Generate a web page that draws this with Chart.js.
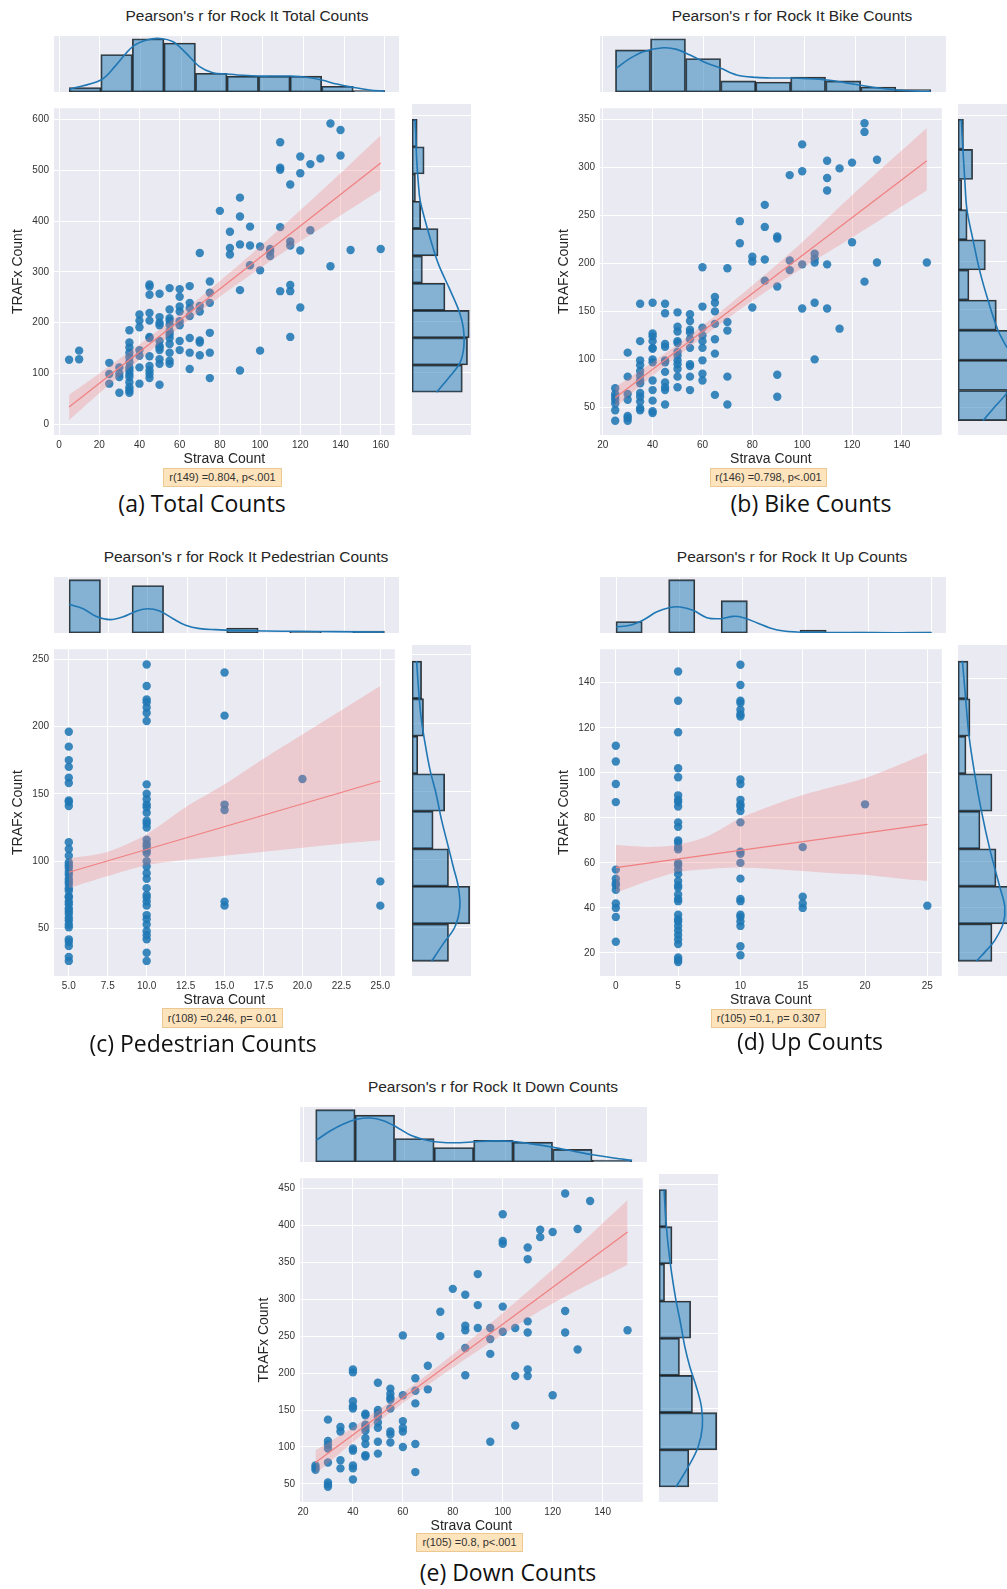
<!DOCTYPE html>
<html>
<head>
<meta charset="utf-8">
<script src="https://cdn.jsdelivr.net/npm/chart.js@4.4.1/dist/chart.umd.min.js"></script>
<style>
  html, body { margin: 0; padding: 0; background: #fff; overflow: hidden; }
  #page { position: relative; width: 1007px; height: 1589px; overflow: hidden; font-family: "Liberation Sans", Arial, sans-serif; }
  #page canvas { position: absolute; }
  .ttl { position: absolute; transform: translate(-50%, -50%); white-space: nowrap; font-size: 15.5px; color: #262626; }
  .rbox { position: absolute; box-sizing: border-box; background: #fee4bc; border: 1px solid #ecc992; font-size: 11px; color: #333; text-align: center; white-space: nowrap; }
  .cap { position: absolute; transform: translate(-50%, -50%); white-space: nowrap; font-family: "Open Sans", sans-serif; font-size: 23px; color: #111; }
</style>
</head>
<body>
<div id="page"></div>
<script>
// ---------- (a) Total counts ----------
const totalPts = [
  [5,127],[10,145],[10,128],
  [25,121],[25,99],[25,80],
  [30,112],[30,100],[30,93],[30,62],
  [35,185],[35,161],[35,151],[35,141],[35,132],[35,122],[35,112],[35,106],[35,99],[35,93],[35,83],[35,73],[35,67],[35,62],
  [40,216],[40,204],[40,191],[40,146],[40,135],[40,112],[40,80],
  [45,275],[45,271],[45,255],[45,219],[45,204],[45,172],[45,170],[45,134],[45,115],[45,106],[45,99],[45,91],
  [50,257],[50,211],[50,200],[50,195],[50,164],[50,154],[50,151],[50,146],[50,128],[50,119],[50,78],
  [55,268],[55,226],[55,209],[55,204],[55,196],[55,183],[55,177],[55,170],[55,158],[55,141],[55,125],[55,119],
  [60,266],[60,251],[60,232],[60,222],[60,203],[60,195],[60,164],[60,146],
  [65,272],[65,239],[65,229],[65,213],[65,170],[65,141],[65,109],
  [70,337],[70,233],[70,222],[70,165],[70,161],[70,136],
  [75,281],[75,259],[75,239],[75,180],[75,141],[75,91],
  [80,420],[85,379],[85,347],[85,334],
  [90,446],[90,409],[90,354],[90,264],[90,106],
  [95,389],[95,352],[95,313],
  [100,350],[100,303],[100,145],
  [105,345],[105,340],[105,331],
  [110,555],[110,505],[110,501],[110,388],[110,262],
  [115,472],[115,360],[115,352],[115,274],[115,262],[115,172],
  [120,527],[120,494],[120,342],[120,230],
  [125,512],[125,382],[130,523],[135,592],[135,311],
  [140,579],[140,529],[145,343],[160,345]
];
const totalXTicks = [0, 20, 40, 60, 80, 100, 120, 140, 160];
const totalYTicks = [0, 100, 200, 300, 400, 500, 600];
const totalFitX = [5, 160];
const totalFitY = [34, 514];
const totalBandX = [5, 20, 40, 60, 80, 100, 120, 140, 160];
const totalBandHi = [58, 100, 157, 217, 282, 350, 421, 494, 569];
const totalBandLo = [8, 61, 127, 191, 251, 307, 360, 411, 461];
const totalTopEdges = [5, 20.5, 36, 51.5, 67, 82.5, 98, 113.5, 129, 144.5, 160];
const totalTopCounts = [3, 26, 37, 34, 13, 11, 11, 11, 4, 1];
const totalTopKdeX = [5, 20.5, 28, 36, 43, 49.5, 56, 62.5, 69, 75.5, 82.5, 90.5, 98, 107, 113.5, 121.5, 129, 136.5, 144.5, 152.5, 160];
const totalTopKdeY = [1.9, 8.3, 18.7, 31.4, 36.1, 37.2, 34.9, 26.8, 17.6, 13.4, 12.5, 11.6, 11.1, 11.1, 11.1, 10.2, 8.3, 5.5, 3.2, 1.4, 0.7];
const totalSideEdges = [62, 115, 168, 221, 274, 327, 380, 433, 486, 539, 592];
const totalSideCounts = [29, 32, 33, 19, 6, 15, 5, 2, 7, 3];
const totalSideKdeY = [62, 93, 119, 151, 187, 219, 261, 307, 345, 404, 436, 462, 514, 566, 592];
const totalSideKdeX = [14.2, 21.9, 27.6, 29.9, 29.6, 27.2, 21.9, 15.7, 11.9, 6.9, 4.6, 3.8, 2.7, 2.1, 1.7];

// ---------- (b) Bike counts ----------
const bikePts = [
  [25,70],[25,64],[25,61],[25,58],[25,54],[25,47],[25,36],
  [30,107],[30,82],[30,64],[30,58],[30,41],[30,39],[30,36],
  [35,158],[35,119],[35,99],[35,94],[35,88],[35,83],[35,78],[35,75],[35,65],[35,61],[35,56],[35,49],[35,47],
  [40,159],[40,127],[40,124],[40,119],[40,112],[40,111],[40,100],[40,97],[40,78],[40,68],[40,57],[40,46],[40,44],
  [45,158],[45,148],[45,116],[45,113],[45,99],[45,97],[45,87],[45,76],[45,71],[45,68],[45,53],
  [50,149],[50,134],[50,129],[50,119],[50,117],[50,108],[50,104],[50,99],[50,95],[50,90],[50,82],[50,71],
  [55,147],[55,140],[55,131],[55,128],[55,121],[55,112],[55,95],[55,93],[55,82],[55,68],
  [60,196],[60,155],[60,133],[60,125],[60,119],[60,112],[60,99],[60,85],[60,78],
  [65,165],[65,159],[65,150],[65,137],[65,121],[65,106],[65,63],
  [70,195],[70,139],[70,130],[70,82],[70,53],
  [75,244],[75,221],[80,207],[80,202],[80,154],
  [85,261],[85,238],[85,204],[85,182],
  [90,228],[90,226],[90,176],[90,84],[90,61],
  [95,292],[95,203],[95,193],
  [100,324],[100,296],[100,199],[100,153],
  [105,210],[105,205],[105,201],[105,159],[105,100],
  [110,307],[110,289],[110,276],[110,199],[110,153],
  [115,299],[115,132],[120,305],[120,222],
  [125,346],[125,337],[125,181],[130,308],[130,201],[150,201]
];
const bikeXTicks = [20, 40, 60, 80, 100, 120, 140];
const bikeYTicks = [50, 100, 150, 200, 250, 300, 350];
const bikeFitX = [25, 150];
const bikeFitY = [60, 307];
const bikeBandX = [25, 40, 60, 80, 100, 120, 150];
const bikeBandHi = [71, 97, 135, 177, 222, 271, 341];
const bikeBandLo = [50, 83, 123, 161, 195, 227, 276];
const bikeTopEdges = [25, 38.9, 52.8, 66.7, 80.6, 94.4, 108.3, 122.2, 136.1, 150];
const bikeTopCounts = [34, 43, 27, 9, 8, 12, 9, 4, 2];
const bikeTopKdeX = [25.3, 30.8, 36.1, 44, 49.3, 54.6, 59.9, 66.8, 73.1, 80.8, 87.6, 94.7, 100.9, 108.7, 115.5, 122.3, 130, 136.6, 143.2, 150];
const bikeTopKdeY = [19.1, 27.1, 32.5, 35.7, 34.4, 29.8, 24.5, 19.1, 13.7, 11.8, 11.3, 11.3, 10.8, 9.7, 7.8, 5.4, 3.0, 1.6, 0.8, 0.3];
const bikeSideEdges = [36, 67, 98, 129, 160, 191, 222, 253, 284, 315, 346];
const bikeSideCounts = [27, 31, 30, 21, 6, 15, 5, 2, 8, 3];
const bikeSideKdeY = [36, 52, 64, 76, 88, 100, 112, 129, 160, 190, 222, 253, 284, 315, 346];
const bikeSideKdeX = [13.7, 21, 26.6, 29.5, 31, 30.5, 26.6, 21.9, 16.4, 11.9, 8.2, 4.9, 3.7, 2.7, 1.8];

// ---------- (c) Pedestrian counts ----------
const pedPts = [
  [5,196],[5,185],[5,175],[5,170],[5,162],[5,158],[5,145],[5,144],[5,141],[5,114],[5,109],[5,104],[5,99],
  [5,97],[5,95],[5,92],[5,90],[5,87],[5,85],[5,83],[5,80],[5,78],[5,74],[5,73],[5,70],[5,68],[5,65],[5,63],
  [5,61],[5,58],[5,56],[5,53],[5,51],[5,42],[5,40],[5,37],[5,29],[5,26],
  [10,246],[10,230],[10,220],[10,218],[10,214],[10,210],[10,204],[10,157],[10,150],[10,146],[10,142],[10,140],
  [10,136],[10,130],[10,128],[10,125],[10,116],[10,113],[10,111],[10,108],[10,106],[10,100],[10,96],[10,91],
  [10,87],[10,80],[10,75],[10,73],[10,70],[10,67],[10,60],[10,57],[10,53],[10,48],[10,45],[10,42],[10,32],[10,26],
  [15,240],[15,208],[15,142],[15,138],[15,70],[15,67],
  [20,161],[25,85],[25,67]
];
const pedXTicks = [5, 7.5, 10, 12.5, 15, 17.5, 20, 22.5, 25];
const pedYTicks = [50, 100, 150, 200, 250];
const pedFitX = [5, 25];
const pedFitY = [91.8, 159.5];
const pedBandX = [5, 7.5, 10, 12.5, 15, 17.5, 20, 22.5, 25];
const pedBandHi = [102, 107, 120, 140, 157, 176, 194, 212, 230];
const pedBandLo = [80, 89, 97, 101, 104, 107, 110, 113, 115.5];
const pedTopEdges = [5, 7, 9, 11, 13, 15, 17, 19, 21, 23, 25];
const pedTopCounts = [54, 0, 48, 0, 0, 5, 0, 1, 0, 2];
const pedTopKdeX = [5, 5.9, 6.7, 7.6, 8.4, 9.3, 10, 10.75, 11.6, 12.4, 13.3, 14.3, 15.4, 17.5, 19.6, 21.8, 25];
const pedTopKdeY = [29, 24.6, 16.9, 13.5, 16.2, 22.3, 24.6, 22.3, 14.5, 7.8, 4.4, 3.4, 2.7, 2.0, 1.7, 1.35, 1.0];
const pedSideEdges = [25.5, 53, 80.5, 108, 135.5, 163, 190.5, 218, 245.5];
const pedSideCounts = [19, 30, 19, 11, 17, 3, 6, 5];
const pedSideKdeY = [25.6, 38.5, 50.7, 65.4, 80.1, 94.7, 109.4, 129, 148.5, 165.6, 185.2, 204.7, 226.8, 245.6];
const pedSideKdeX = [10.2, 16.3, 22.3, 24.9, 24.1, 21.5, 18.9, 15.4, 12.5, 9.4, 6.8, 4.7, 3.3, 2.4];

// ---------- (d) Up counts ----------
const upPts = [
  [0,112],[0,105],[0,95],[0,87],[0,57],[0,53],[0,51],[0,50],[0,48],[0,42],[0,40],[0,36],[0,25],
  [5,145],[5,132],[5,118],[5,102],[5,98],[5,90],[5,88],[5,87],[5,85],[5,78],[5,76],[5,70],[5,69],[5,67],
  [5,66],[5,60],[5,59],[5,57],[5,55],[5,52],[5,50],[5,49],[5,46],[5,44],[5,43],[5,37],[5,35],[5,34],[5,32],
  [5,30],[5,28],[5,26],[5,24],[5,18],[5,17],[5,16],
  [10,148],[10,139],[10,132],[10,131],[10,128],[10,126],[10,125],[10,97],[10,95],[10,88],[10,86],[10,85],
  [10,83],[10,78],[10,65],[10,64],[10,60],[10,53],[10,44],[10,43],[10,37],[10,36],[10,34],[10,32],[10,23],[10,19],
  [15,67],[15,45],[15,42],[15,40],[20,86],[25,41]
];
const upXTicks = [0, 5, 10, 15, 20, 25];
const upYTicks = [20, 40, 60, 80, 100, 120, 140];
const upFitX = [0, 25];
const upFitY = [57.9, 77.1];
const upBandX = [0, 2.5, 5, 7.5, 10, 12.5, 15, 17.5, 20, 22.5, 25];
const upBandHi = [67.9, 67.1, 68.1, 72.2, 79.9, 85.4, 90.1, 93.9, 97.6, 103, 108.8];
const upBandLo = [46.6, 51.8, 55.9, 57.3, 57.9, 57.3, 56.4, 55.4, 54.7, 53.2, 52];
const upTopEdges = [0, 2.08, 4.17, 6.25, 8.33, 10.42, 12.5, 14.58, 16.67, 18.75, 20.83, 22.92, 25];
const upTopCounts = [12, 0, 56, 0, 34, 0, 0, 3, 0, 1, 0, 1];
const upTopKdeX = [0, 1.1, 2.2, 3.2, 4.2, 5.1, 6.1, 7.2, 8.3, 9.3, 10.1, 11.2, 12.2, 13.3, 15.1, 19.6, 25];
const upTopKdeY = [6.3, 8.1, 14, 22, 26.6, 27.3, 23.8, 16.1, 15, 17.5, 16.1, 10.5, 5.3, 2.1, 0.7, 0.35, 0.35];
const upSideEdges = [16.2, 32.65, 49.1, 65.55, 82, 98.45, 114.9, 131.35, 147.8];
const upSideCounts = [17, 28, 19, 11, 17, 4, 6, 5];
const upSideKdeY = [16.2, 21, 25.4, 32.5, 40.1, 48.8, 65.4, 82.2, 98.6, 115.1, 131.5, 148];
const upSideKdeX = [9.2, 14.2, 18.4, 22.5, 23.4, 20.9, 15.9, 11.7, 8.3, 5.5, 3.8, 2.2];

// ---------- (e) Down counts ----------
const downPts = [
  [25,75],[25,72],[25,69],
  [30,137],[30,108],[30,103],[30,98],[30,79],[30,52],[30,49],[30,46],
  [35,127],[35,121],[35,82],[35,71],
  [40,205],[40,201],[40,162],[40,155],[40,152],[40,128],[40,98],[40,95],[40,75],[40,71],[40,56],
  [45,145],[45,143],[45,130],[45,126],[45,122],[45,112],[45,104],[45,89],[45,87],
  [50,187],[50,150],[50,146],[50,141],[50,133],[50,126],[50,107],[50,91],
  [55,179],[55,172],[55,167],[55,164],[55,152],[55,121],[55,117],[55,106],
  [60,251],[60,170],[60,135],[60,126],[60,121],[60,100],
  [65,193],[65,176],[65,159],[65,104],[65,66],
  [70,210],[70,178],[75,283],[75,250],[80,314],
  [85,306],[85,264],[85,258],[85,234],[85,197],
  [90,334],[90,292],[90,261],
  [95,261],[95,246],[95,226],[95,107],
  [100,415],[100,379],[100,375],[100,290],[100,256],
  [105,261],[105,196],[105,129],
  [110,370],[110,354],[110,270],[110,255],[110,205],[110,196],
  [115,394],[115,384],[120,391],[120,170],
  [125,443],[125,284],[125,255],[130,395],[130,232],[135,433],[150,258]
];
const downXTicks = [20, 40, 60, 80, 100, 120, 140];
const downYTicks = [50, 100, 150, 200, 250, 300, 350, 400, 450];
const downFitX = [25, 150];
const downFitY = [79, 391];
const downBandX = [25, 40, 60, 80, 100, 120, 150];
const downBandHi = [95.5, 126.5, 173.4, 225.3, 281.3, 340.2, 434.4];
const downBandLo = [63.4, 106.5, 159.4, 207.3, 252.3, 294.2, 346.5];
const downTopEdges = [25, 40.6, 56.25, 71.9, 87.5, 103.1, 118.75, 134.4, 150];
const downTopCounts = [29, 26, 13, 8, 12, 11, 7, 1];
const downTopKdeX = [25.3, 30.7, 36, 41.3, 46.6, 51.8, 57.1, 62.4, 67.7, 72.2, 76.9, 82.2, 87.7, 95.4, 103.4, 111.2, 119.1, 127, 134.6, 142.9, 150.2];
const downTopKdeY = [12.1, 17.2, 21.1, 23.7, 24.4, 22.9, 19.3, 15, 12.5, 11.2, 10.7, 10.7, 11.2, 11.7, 11.4, 9.9, 8.1, 6, 4, 2.2, 0.9];
const downSideEdges = [45.5, 95.2, 144.9, 194.6, 244.3, 294, 343.7, 393.4, 443.1];
const downSideCounts = [16, 31, 18, 11, 17, 3, 7, 4];
const downSideKdeY = [45.5, 72.3, 99, 125.8, 152.6, 179.3, 206, 232.8, 264, 295.3, 331, 366.7, 402.3, 443.3];
const downSideKdeX = [9.1, 15.7, 21, 23.3, 22.8, 20.1, 16.6, 13.9, 11.6, 9.1, 6.8, 5, 3.7, 2.7];

// ---------- styling ----------
const AXIS_BG = '#eaeaf2';
const PT_COLOR = 'rgba(31,119,180,0.88)';
const FIT_COLOR = '#f08080';
const BAND_COLOR = 'rgba(240,128,128,0.3)';
const HIST_COLOR = 'rgba(31,119,180,0.5)';
const EDGE_COLOR = 'rgba(20,20,20,0.85)';
const KDE_COLOR = '#1f77b4';

Chart.defaults.font.family = "'Liberation Sans', Arial, sans-serif";
Chart.defaults.color = '#333';

const axisBg = {
  id: 'axisBg',
  beforeDraw(chart) {
    const a = chart.chartArea, ctx = chart.ctx;
    ctx.save();
    ctx.fillStyle = AXIS_BG;
    ctx.fillRect(a.left, a.top, a.right - a.left, a.bottom - a.top);
    ctx.restore();
  }
};

const page = document.getElementById('page');

function addCanvas(l, t, w, h) {
  const c = document.createElement('canvas');
  c.width = w; c.height = h;
  c.style.left = l + 'px'; c.style.top = t + 'px';
  page.appendChild(c);
  return c;
}

function addDiv(cls, text, css) {
  const d = document.createElement('div');
  d.className = cls;
  d.textContent = text;
  Object.assign(d.style, css);
  page.appendChild(d);
  return d;
}

function useTicks(arr) {
  return s => { s.ticks = arr.map(v => ({ value: v })); };
}

function pairs(xs, ys) {
  return xs.map((x, i) => ({ x: x, y: ys[i] }));
}

function centersOf(edges) {
  return edges.slice(0, -1).map((e, i) => (e + edges[i + 1]) / 2);
}

const baseOpts = {
  responsive: false,
  animation: false,
  events: [],
  layout: { padding: 0 },
  plugins: { legend: { display: false }, tooltip: { enabled: false } }
};

function mainChart(p) {
  const wy = 46, hx = 33;
  const m = p.main;
  const cv = addCanvas(m.l - wy, m.t, m.w + wy, m.h + hx);
  new Chart(cv, {
    type: 'scatter',
    data: {
      datasets: [
        { type: 'line', data: pairs(p.fitX, p.fitY), borderColor: FIT_COLOR, borderWidth: 1.2,
          pointRadius: 0, fill: false, order: 0 },
        { type: 'line', data: pairs(p.bandX, p.bandHi), borderColor: 'transparent', borderWidth: 0,
          pointRadius: 0, fill: '+1', backgroundColor: BAND_COLOR, tension: 0.3, order: 1 },
        { type: 'line', data: pairs(p.bandX, p.bandLo), borderColor: 'transparent', borderWidth: 0,
          pointRadius: 0, fill: false, tension: 0.3, order: 1 },
        { data: p.pts.map(q => ({ x: q[0], y: q[1] })), backgroundColor: PT_COLOR, borderWidth: 0,
          pointRadius: 4.2, order: 2 }
      ]
    },
    options: Object.assign({}, baseOpts, {
      scales: {
        x: {
          type: 'linear', min: p.xRange[0], max: p.xRange[1],
          afterBuildTicks: useTicks(p.xTicks),
          afterFit: s => { s.height = hx; s.paddingLeft = 0; s.paddingRight = 0; },
          grid: { color: '#fff', lineWidth: 1, drawTicks: false },
          border: { display: false },
          ticks: { padding: 4, font: { size: 10 }, color: '#333', autoSkip: false, maxRotation: 0,
                   callback: v => p.xFmt ? p.xFmt(v) : String(v) },
          title: { display: true, text: 'Strava Count', font: { size: 14 }, color: '#262626',
                   padding: { top: 0, bottom: 0 } }
        },
        y: {
          type: 'linear', min: p.yRange[0], max: p.yRange[1],
          afterBuildTicks: useTicks(p.yTicks),
          afterFit: s => { s.width = wy; s.paddingTop = 0; s.paddingBottom = 0; },
          grid: { color: '#fff', lineWidth: 1, drawTicks: false },
          border: { display: false },
          ticks: { padding: 5, font: { size: 10 }, color: '#333', autoSkip: false,
                   callback: v => String(v) },
          title: { display: true, text: 'TRAFx Count', font: { size: 14 }, color: '#262626',
                   padding: { top: 2, bottom: 0 } }
        }
      }
    }),
    plugins: [axisBg]
  });
}

function topHist(p) {
  const t = p.top;
  const cv = addCanvas(t.l, t.t, t.w, t.h);
  new Chart(cv, {
    type: 'bar',
    data: {
      datasets: [
        { type: 'line', data: pairs(p.topKdeX, p.topKdeY), borderColor: KDE_COLOR, borderWidth: 1.6,
          pointRadius: 0, tension: 0.35, fill: false, order: 0 },
        { data: pairs(centersOf(p.topEdges), p.topCounts), backgroundColor: HIST_COLOR,
          borderColor: EDGE_COLOR, borderWidth: 1.2, borderSkipped: false,
          barPercentage: 1, categoryPercentage: 1, order: 1 }
      ]
    },
    options: Object.assign({}, baseOpts, {
      scales: {
        x: {
          type: 'linear', min: p.xRange[0], max: p.xRange[1], offset: false,
          afterBuildTicks: useTicks(p.xTicks),
          afterFit: s => { s.height = 0; s.paddingLeft = 0; s.paddingRight = 0; },
          grid: { offset: false, color: '#fff', lineWidth: 1, drawTicks: false },
          border: { display: false }, ticks: { display: false }
        },
        y: { type: 'linear', min: 0, max: p.topMax, display: false }
      }
    }),
    plugins: [axisBg]
  });
}

function sideHist(p) {
  const r = p.side;
  const cv = addCanvas(r.l, r.t, r.w, r.h);
  new Chart(cv, {
    type: 'bar',
    data: {
      datasets: [
        { type: 'line', data: pairs(p.sideKdeX, p.sideKdeY), borderColor: KDE_COLOR, borderWidth: 1.6,
          pointRadius: 0, tension: 0.35, fill: false, order: 0 },
        { data: centersOf(p.sideEdges).map((y, i) => ({ x: p.sideCounts[i], y: y })),
          backgroundColor: HIST_COLOR, borderColor: EDGE_COLOR, borderWidth: 1.2, borderSkipped: false,
          barPercentage: 1, categoryPercentage: 1, order: 1 }
      ]
    },
    options: Object.assign({}, baseOpts, {
      indexAxis: 'y',
      scales: {
        y: {
          type: 'linear', min: p.yRange[0], max: p.yRange[1], offset: false,
          afterBuildTicks: useTicks(p.yTicks),
          afterFit: s => { s.width = 0; s.paddingTop = 0; s.paddingBottom = 0; },
          grid: { offset: false, color: '#fff', lineWidth: 1, drawTicks: false },
          border: { display: false }, ticks: { display: false }
        },
        x: { type: 'linear', min: 0, max: p.sideMax, display: false }
      }
    }),
    plugins: [axisBg]
  });
}

const panels = [
  { pts: totalPts, xTicks: totalXTicks, yTicks: totalYTicks, fitX: totalFitX, fitY: totalFitY,
    bandX: totalBandX, bandHi: totalBandHi, bandLo: totalBandLo,
    topEdges: totalTopEdges, topCounts: totalTopCounts, topKdeX: totalTopKdeX, topKdeY: totalTopKdeY,
    sideEdges: totalSideEdges, sideCounts: totalSideCounts, sideKdeX: totalSideKdeX, sideKdeY: totalSideKdeY,
    xRange: [-2.5, 167], yRange: [-21, 622], topMax: 38.9, sideMax: 34,
    main: { l: 54, t: 104, w: 345, h: 331 }, top: { l: 54, t: 36, w: 345, h: 56 }, side: { l: 412, t: 104, w: 59, h: 331 },
    title: ["Pearson's r for Rock It Total Counts", 247, 16],
    rbox: ['r(149) =0.804, p<.001', 163, 468, 119, 19],
    caption: ['(a) Total Counts', 202, 503] },
  { pts: bikePts, xTicks: bikeXTicks, yTicks: bikeYTicks, fitX: bikeFitX, fitY: bikeFitY,
    bandX: bikeBandX, bandHi: bikeBandHi, bandLo: bikeBandLo,
    topEdges: bikeTopEdges, topCounts: bikeTopCounts, topKdeX: bikeTopKdeX, topKdeY: bikeTopKdeY,
    sideEdges: bikeSideEdges, sideCounts: bikeSideCounts, sideKdeX: bikeSideKdeX, sideKdeY: bikeSideKdeY,
    xRange: [18.9, 156], yRange: [21.2, 361.7], topMax: 45.2, sideMax: 32.3,
    main: { l: 600, t: 104, w: 346, h: 331 }, top: { l: 600, t: 36, w: 346, h: 56 }, side: { l: 958, t: 104, w: 59, h: 331 },
    title: ["Pearson's r for Rock It Bike Counts", 792, 16],
    rbox: ['r(146) =0.798, p<.001', 710, 468, 117, 19],
    caption: ['(b) Bike Counts', 811, 503] },
  { pts: pedPts, xTicks: pedXTicks, yTicks: pedYTicks, fitX: pedFitX, fitY: pedFitY,
    bandX: pedBandX, bandHi: pedBandHi, bandLo: pedBandLo,
    topEdges: pedTopEdges, topCounts: pedTopCounts, topKdeX: pedTopKdeX, topKdeY: pedTopKdeY,
    sideEdges: pedSideEdges, sideCounts: pedSideCounts, sideKdeX: pedSideKdeX, sideKdeY: pedSideKdeY,
    xRange: [4.05, 25.93], yRange: [14.8, 257.3], topMax: 56.7, sideMax: 30.7,
    xFmt: v => v.toFixed(1),
    main: { l: 54, t: 645, w: 345, h: 331 }, top: { l: 54, t: 577, w: 345, h: 56 }, side: { l: 412, t: 645, w: 59, h: 331 },
    title: ["Pearson's r for Rock It Pedestrian Counts", 246, 557],
    rbox: ['r(108) =0.246, p= 0.01', 162, 1008, 121, 20],
    caption: ['(c) Pedestrian Counts', 203, 1043] },
  { pts: upPts, xTicks: upXTicks, yTicks: upYTicks, fitX: upFitX, fitY: upFitY,
    bandX: upBandX, bandHi: upBandHi, bandLo: upBandLo,
    topEdges: upTopEdges, topCounts: upTopCounts, topKdeX: upTopKdeX, topKdeY: upTopKdeY,
    sideEdges: upSideEdges, sideCounts: upSideCounts, sideKdeX: upSideKdeX, sideKdeY: upSideKdeY,
    xRange: [-1.27, 26.16], yRange: [9.76, 154.9], topMax: 58.8, sideMax: 29.5,
    main: { l: 600, t: 645, w: 346, h: 331 }, top: { l: 600, t: 577, w: 346, h: 56 }, side: { l: 958, t: 645, w: 59, h: 331 },
    title: ["Pearson's r for Rock It Up Counts", 792, 557],
    rbox: ['r(105) =0.1, p= 0.307', 711, 1009, 115, 19],
    caption: ['(d) Up Counts', 810, 1041] },
  { pts: downPts, xTicks: downXTicks, yTicks: downYTicks, fitX: downFitX, fitY: downFitY,
    bandX: downBandX, bandHi: downBandHi, bandLo: downBandLo,
    topEdges: downTopEdges, topCounts: downTopCounts, topKdeX: downTopKdeX, topKdeY: downTopKdeY,
    sideEdges: downSideEdges, sideCounts: downSideCounts, sideKdeX: downSideKdeX, sideKdeY: downSideKdeY,
    xRange: [18.8, 156.1], yRange: [25.5, 463.8], topMax: 30.5, sideMax: 31.7,
    main: { l: 300, t: 1174, w: 347, h: 328 }, top: { l: 300, t: 1107, w: 347, h: 55 }, side: { l: 659, t: 1174, w: 59, h: 328 },
    title: ["Pearson's r for Rock It Down Counts", 493, 1087],
    rbox: ['r(105) =0.8, p<.001', 416, 1533, 107, 19],
    caption: ['(e) Down Counts', 508, 1572] }
];

panels.forEach(p => {
  addDiv('ttl', p.title[0], { left: p.title[1] + 'px', top: p.title[2] + 'px' });
  topHist(p);
  mainChart(p);
  sideHist(p);
  const b = p.rbox;
  addDiv('rbox', b[0], { left: b[1] + 'px', top: b[2] + 'px', width: b[3] + 'px', height: b[4] + 'px',
                        lineHeight: (b[4] - 2) + 'px' });
  addDiv('cap', p.caption[0], { left: p.caption[1] + 'px', top: p.caption[2] + 'px' });
});
</script>
</body>
</html>
